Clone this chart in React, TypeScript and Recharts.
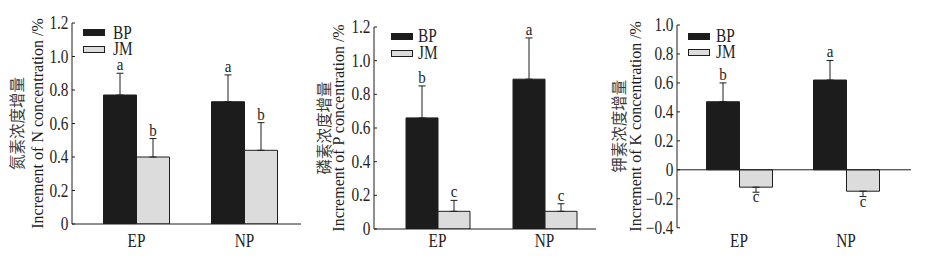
import React from 'react';
import { BarChart, Bar, XAxis, YAxis, ErrorBar, LabelList, Legend, ReferenceLine } from 'recharts';

const FONT = '"Liberation Serif", "Times New Roman", "Noto Sans CJK SC", serif';
const CJK_FONT = '"Noto Sans CJK SC", "Liberation Serif", serif';
const INK = '#1e1e1e';

const categories = ['EP', 'NP'];
const seriesNames = ['BP', 'JM'];
const seriesFills = ['#1c1c1c', '#dcdcdc'];

// Panel 1: N
const nBP = [0.77, 0.73];
const nBPErr = [0.13, 0.16];
const nJM = [0.4, 0.44];
const nJMErr = [0.11, 0.165];
const nBPLetters = ['a', 'a'];
const nJMLetters = ['b', 'b'];

// Panel 2: P
const pBP = [0.66, 0.89];
const pBPErr = [0.19, 0.245];
const pJM = [0.105, 0.105];
const pJMErr = [0.065, 0.045];
const pBPLetters = ['b', 'a'];
const pJMLetters = ['c', 'c'];

// Panel 3: K
const kBP = [0.47, 0.62];
const kBPErr = [0.13, 0.135];
const kJM = [-0.12, -0.148];
const kJMErr = [0.035, 0.037];
const kBPLetters = ['b', 'a'];
const kJMLetters = ['c', 'c'];

const yTicksNP = [0, 0.2, 0.4, 0.6, 0.8, 1.0, 1.2];
const yLabelsNP = ['0', '0.2', '0.4', '0.6', '0.8', '1.0', '1.2'];
const yTicksK = [-0.4, -0.2, 0, 0.2, 0.4, 0.6, 0.8, 1.0];
const yLabelsK = ['\u22120.4', '\u22120.2', '0', '0.2', '0.4', '0.6', '0.8', '1.0'];

const titlesCn = ['氮素浓度增量', '磷素浓度增量', '钾素浓度增量'];
const titlesEn = ['Increment of N concentration /%', 'Increment of P concentration /%', 'Increment of K concentration /%'];

const errPair = (v: number, e: number) => (v >= 0 ? [0, e] : [e, 0]);

const buildRows = (bp: number[], bpErr: number[], jm: number[], jmErr: number[]) =>
  categories.map((c, i) => ({
    cat: c,
    BP: bp[i],
    JM: jm[i],
    BPerr: errPair(bp[i], bpErr[i]),
    JMerr: errPair(jm[i], jmErr[i]),
  }));

const YTick = (props: any) => {
  const { x, y, payload, ticks, labels } = props;
  const idx = ticks.findIndex((t: number) => Math.abs(t - payload.value) < 1e-9);
  return (
    <text
      transform={`translate(${x},${y}) scale(0.85,1)`}
      textAnchor="end"
      dy="0.34em"
      fontSize={18}
      fontFamily={FONT}
      fill={INK}
    >
      {idx >= 0 ? labels[idx] : ''}
    </text>
  );
};

const XTick = (props: any) => {
  const { x, y, payload } = props;
  return (
    <text
      transform={`translate(${x},${y}) scale(0.85,1)`}
      textAnchor="middle"
      fontSize={18}
      fontFamily={FONT}
      fill={INK}
    >
      {payload.value}
    </text>
  );
};

const makeLetter = (vals: number[], errs: number[], letters: string[]) => (props: any) => {
  const index = props.index;
  const vb = props.viewBox || props;
  const { x, y, width, height } = vb;
  const v = vals[index];
  const e = errs[index];
  if (v === undefined || !v || !height) return null;
  const k = Math.abs(height / v);
  const cx = x + width / 2;
  let ty: number;
  if (v >= 0) {
    const top = Math.min(y, y + height);
    ty = top - e * k - 3;
  } else {
    const bot = Math.max(y, y + height);
    ty = bot + e * k + 10;
  }
  return (
    <text
      transform={`translate(${cx},${ty}) scale(0.88,1)`}
      textAnchor="middle"
      fontSize={17}
      fontFamily={FONT}
      fill={INK}
    >
      {letters[index]}
    </text>
  );
};

const LegendContent = (gap: number) => (props: any) => {
  const { payload } = props;
  return (
    <div style={{ fontFamily: FONT, fontSize: 18, color: INK }}>
      {(payload || []).map((e: any) => (
        <div key={e.value} style={{ display: 'flex', alignItems: 'center', height: 16.7 }}>
          <span
            style={{
              display: 'inline-block',
              width: 22,
              height: 7,
              boxSizing: 'border-box',
              background: e.color,
              border: `1px solid ${INK}`,
            }}
          />
          <span
            style={{
              display: 'inline-block',
              marginLeft: gap,
              transform: 'scaleX(0.85)',
              transformOrigin: 'left center',
              lineHeight: '16.7px',
            }}
          >
            {e.value}
          </span>
        </div>
      ))}
    </div>
  );
};

const makeAxisLabel = (cn: string, en: string, cnX: number, enX: number) => (props: any) => {
  const vb = props.viewBox || props;
  const cy = vb.y + vb.height / 2;
  return (
    <g>
      <text
        transform={`translate(${cnX},${cy}) rotate(-90)`}
        textAnchor="middle"
        dominantBaseline="central"
        fontSize={15.5}
        fontFamily={CJK_FONT}
        fill="#3a3a3a"
      >
        {cn}
      </text>
      <text
        transform={`translate(${enX},${cy}) rotate(-90)`}
        textAnchor="middle"
        dominantBaseline="central"
        fontSize={16}
        fontFamily={FONT}
        fill={INK}
      >
        {en}
      </text>
    </g>
  );
};

type PanelProps = {
  left: number;
  width: number;
  yAxisWidth: number;
  margin: { top: number; right: number; bottom: number; left: number };
  padding: { left: number; right: number };
  barSize: number;
  xTickMargin: number;
  domain: [number, number];
  ticks: number[];
  labels: string[];
  bp: number[];
  bpErr: number[];
  jm: number[];
  jmErr: number[];
  bpLetters: string[];
  jmLetters: string[];
  cn: string;
  en: string;
  cnX: number;
  enX: number;
  legendLeft: number;
  legendTop: number;
  legendGap: number;
  zeroLine: boolean;
};

const Panel = (p: PanelProps) => {
  const data = buildRows(p.bp, p.bpErr, p.jm, p.jmErr);
  return (
    <div style={{ position: 'absolute', left: p.left, top: 0, width: p.width, height: 260 }}>
      <BarChart width={p.width} height={260} data={data} margin={p.margin} barGap={0} barSize={p.barSize}>
        <XAxis
          dataKey="cat"
          height={30}
          axisLine={p.zeroLine ? false : { stroke: INK, strokeWidth: 1 }}
          tickLine={false}
          tickSize={0}
          tickMargin={p.xTickMargin}
          tick={<XTick />}
          padding={p.padding}
          interval={0}
        />
        <YAxis
          type="number"
          width={p.yAxisWidth}
          domain={p.domain}
          ticks={p.ticks}
          interval={0}
          allowDataOverflow
          axisLine={{ stroke: INK, strokeWidth: 1 }}
          tickLine={{ stroke: INK, strokeWidth: 1 }}
          tickSize={-3}
          tickMargin={6.5}
          tick={<YTick ticks={p.ticks} labels={p.labels} />}
          label={makeAxisLabel(p.cn, p.en, p.cnX, p.enX)}
        />
        {p.zeroLine && <ReferenceLine y={0} stroke={INK} strokeWidth={1} ifOverflow="extendDomain" />}
        <Legend
          layout="vertical"
          align="center"
          verticalAlign="middle"
          wrapperStyle={{ left: p.legendLeft, top: p.legendTop, width: 'auto', height: 'auto' }}
          content={LegendContent(p.legendGap)}
        />
        <Bar
          dataKey="BP"
          name={seriesNames[0]}
          fill={seriesFills[0]}
          stroke={INK}
          strokeWidth={1}
          isAnimationActive={false}
        >
          <ErrorBar dataKey="BPerr" direction="y" width={3.5} stroke={INK} strokeWidth={1} isAnimationActive={false} />
          <LabelList dataKey="BP" content={makeLetter(p.bp, p.bpErr, p.bpLetters)} />
        </Bar>
        <Bar
          dataKey="JM"
          name={seriesNames[1]}
          fill={seriesFills[1]}
          stroke={INK}
          strokeWidth={1}
          isAnimationActive={false}
        >
          <ErrorBar dataKey="JMerr" direction="y" width={3.5} stroke={INK} strokeWidth={1} isAnimationActive={false} />
          <LabelList dataKey="JM" content={makeLetter(p.jm, p.jmErr, p.jmLetters)} />
        </Bar>
      </BarChart>
    </div>
  );
};

export default function App() {
  return (
    <div style={{ position: 'absolute', left: 0, top: 0, width: 926, height: 260, background: '#fff', overflow: 'hidden' }}>
      <Panel
        left={0}
        width={310}
        yAxisWidth={72}
        margin={{ top: 23, right: 9, bottom: 6, left: 0 }}
        padding={{ left: 10.5, right: 2.5 }}
        barSize={33}
        xTickMargin={23}
        domain={[0, 1.2]}
        ticks={yTicksNP}
        labels={yLabelsNP}
        bp={nBP}
        bpErr={nBPErr}
        jm={nJM}
        jmErr={nJMErr}
        bpLetters={nBPLetters}
        jmLetters={nJMLetters}
        cn={titlesCn[0]}
        en={titlesEn[0]}
        cnX={16}
        enX={37.5}
        legendLeft={83}
        legendTop={24.6}
        legendGap={8}
        zeroLine={false}
      />
      <Panel
        left={300}
        width={310}
        yAxisWidth={74}
        margin={{ top: 27, right: 14, bottom: 1, left: 0 }}
        padding={{ left: 10, right: -2 }}
        barSize={32}
        xTickMargin={18}
        domain={[0, 1.2]}
        ticks={yTicksNP}
        labels={yLabelsNP}
        bp={pBP}
        bpErr={pBPErr}
        jm={pJM}
        jmErr={pJMErr}
        bpLetters={pBPLetters}
        jmLetters={pJMLetters}
        cn={titlesCn[1]}
        en={titlesEn[1]}
        cnX={22.5}
        enX={38.5}
        legendLeft={90.7}
        legendTop={28.3}
        legendGap={5}
        zeroLine={false}
      />
      <Panel
        left={600}
        width={326}
        yAxisWidth={77}
        margin={{ top: 25, right: 15, bottom: 2.3, left: 0 }}
        padding={{ left: 8.5, right: 11.5 }}
        barSize={33}
        xTickMargin={19}
        domain={[-0.4, 1.0]}
        ticks={yTicksK}
        labels={yLabelsK}
        bp={kBP}
        bpErr={kBPErr}
        jm={kJM}
        jmErr={kJMErr}
        bpLetters={kBPLetters}
        jmLetters={kJMLetters}
        cn={titlesCn[2]}
        en={titlesEn[2]}
        cnX={18}
        enX={35.5}
        legendLeft={88.3}
        legendTop={27.7}
        legendGap={6}
        zeroLine={true}
      />
    </div>
  );
}
